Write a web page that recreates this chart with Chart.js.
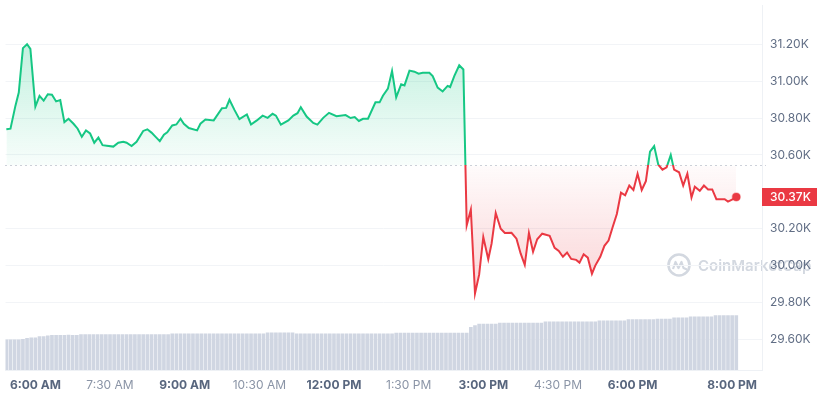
<!DOCTYPE html>
<html>
<head>
<meta charset="utf-8">
<script src="https://cdn.jsdelivr.net/npm/chart.js@4.4.0/dist/chart.umd.min.js"></script>
<style>
  html, body { margin: 0; padding: 0; background: #ffffff; }
  #wrap { width: 817px; height: 396px; position: relative; }
</style>
</head>
<body>
<div id="wrap"><canvas id="c" width="817" height="396"></canvas></div>
<script>
// ---- data (times are minutes after midnight) ----
const priceTimes = [325,330,336,340,345,350,354,360,365,370,
  375,380,385,390,395,400,406,411,416,421,
  426,431,436,441,446,454,460,466,470,476,
  482,490,495,500,505,510,515,519,525,530,
  535,539,545,555,559,565,575,585,590,594,
  600,606,615,620,627,634,640,646,650,656,
  665,671,676,680,687,695,700,707,714,723,
  734,740,745,750,755,761,770,775,779,785,
  790,795,801,805,811,817,822,827,835,839,
  845,851,857,860,865,871,876,880,885,890,
  895,900,906,910,915,921,926,934,940,945,
  950,955,960,965,971,980,986,991,996,1001,
  1006,1012,1016,1021,1026,1031,1035,1041,1046,1051,
  1056,1061,1066,1071,1076,1081,1086,1091,1096,1101,
  1106,1111,1116,1121,1126,1130,1136,1141,1146,1151,
  1155,1161,1166,1171,1176,1181,1186,1191,1195,1201,
  1205];

// BTC price in thousands of USD
const prices = [30.739,30.742,30.867,30.938,31.179,31.200,31.175,30.862,30.920,30.894,
  30.929,30.926,30.890,30.897,30.778,30.796,30.769,30.742,30.698,30.733,
  30.716,30.666,30.694,30.653,30.650,30.645,30.666,30.671,30.666,30.648,
  30.671,30.730,30.739,30.721,30.698,30.675,30.710,30.723,30.760,30.765,
  30.796,30.769,30.746,30.733,30.769,30.792,30.787,30.853,30.855,30.899,
  30.844,30.794,30.819,30.765,30.787,30.813,30.801,30.823,30.813,30.764,
  30.787,30.813,30.826,30.858,30.808,30.773,30.764,30.801,30.828,30.810,
  30.816,30.800,30.805,30.784,30.796,30.796,30.885,30.885,30.921,30.959,
  31.055,30.912,30.983,30.977,31.057,31.051,31.040,31.045,31.045,31.027,
  30.965,30.944,30.974,30.968,31.027,31.086,31.063,30.218,30.303,29.849,
  29.951,30.155,30.034,30.119,30.285,30.200,30.177,30.178,30.146,30.066,
  30.004,30.177,30.075,30.143,30.173,30.161,30.096,30.079,30.048,30.071,
  30.036,30.031,30.016,30.061,30.043,29.956,30.000,30.048,30.107,30.136,
  30.209,30.280,30.395,30.381,30.434,30.410,30.498,30.410,30.458,30.618,
  30.648,30.547,30.520,30.533,30.600,30.520,30.506,30.434,30.498,30.369,
  30.427,30.405,30.434,30.413,30.413,30.360,30.360,30.360,30.347,30.360,
  30.372];

// reference (opening) price for the dotted baseline, in thousands
const openPrice = 30.543;

// 24h volume (billions USD), one bar per 5-minute candle starting 5:25 AM
const volumeStart = 325;
const volumeStep = 5;
const volume = [8.3,8.3,8.3,8.3,8.4,8.7,8.8,8.8,9.2,9.2,
  9.4,9.5,9.5,9.5,9.5,9.6,9.5,9.5,9.7,9.7,
  9.7,9.7,9.7,9.7,9.7,9.7,9.7,9.7,9.7,9.7,
  9.7,9.7,9.7,9.7,9.7,9.7,9.7,9.7,9.7,9.7,
  9.9,9.9,9.9,9.9,9.9,9.9,9.9,9.9,9.9,9.9,
  9.9,9.9,9.9,9.9,9.9,9.9,9.9,9.9,9.9,9.9,
  9.9,9.9,9.9,10.2,10.2,10.2,10.2,10.2,10.2,10.2,
  9.9,9.9,9.9,9.9,9.9,9.9,9.9,9.9,9.9,9.9,
  9.9,9.9,9.9,9.9,9.9,9.9,9.9,9.9,9.9,9.9,
  9.9,9.9,9.9,9.9,10.1,10.1,10.1,10.1,10.1,10.1,
  10.1,10.1,10.1,10.1,10.1,10.1,10.1,10.1,10.1,10.1,
  10.1,10.1,11.7,12.2,12.6,12.6,12.6,12.6,12.6,12.9,
  12.9,12.9,12.9,12.9,12.9,12.9,12.9,12.9,12.9,12.9,
  13.2,13.2,13.2,13.2,13.2,13.2,13.2,13.2,13.2,13.2,
  13.2,13.2,13.2,13.5,13.5,13.5,13.5,13.5,13.5,13.5,
  13.8,13.8,13.8,13.8,13.8,13.8,13.8,14.0,14.0,14.0,
  14.0,14.3,14.3,14.3,14.3,14.6,14.6,14.6,14.6,14.6,
  14.6,14.9,14.9,14.9,14.9,14.9,14.9];

// axis ticks
const timeTicks = [360,450,540,630,720,810,900,990,1080,1200];
const timeLabels = ['6:00 AM','7:30 AM','9:00 AM','10:30 AM','12:00 PM','1:30 PM','3:00 PM','4:30 PM','6:00 PM','8:00 PM'];
const priceTicks = [29.6,29.8,30.0,30.2,30.4,30.6,30.8,31.0,31.2].filter(v => Math.abs(v - 30.4) > 1e-9);

// ---- styling ----
const GREEN = '#16c784';
const RED = '#ea3943';
const FONT = 'Inter, "Noto Sans", sans-serif';

const priceData = priceTimes.map((t, i) => ({ x: t, y: prices[i] }));
const volumeData = volume.map((v, i) => ({ x: volumeStart + i * volumeStep, y: v }));
const lastIdx = prices.length - 1;

const watermark = {
  id: 'watermark',
  beforeDraw(chart) {
    const { ctx, chartArea: a } = chart;
    ctx.save();
    const cx = a.right - 83, cy = a.bottom - 105;
    ctx.strokeStyle = '#d3d8e0';
    ctx.lineWidth = 2.6;
    ctx.beginPath();
    ctx.arc(cx, cy, 10.5, 0, Math.PI * 2);
    ctx.stroke();
    ctx.lineWidth = 2.2;
    ctx.lineJoin = 'round';
    ctx.beginPath();
    ctx.moveTo(cx - 6, cy + 4);
    ctx.lineTo(cx - 3.5, cy - 3);
    ctx.lineTo(cx - 0.5, cy + 3);
    ctx.lineTo(cx + 2.5, cy - 3);
    ctx.lineTo(cx + 4.5, cy + 3);
    ctx.lineTo(cx + 8, cy + 4.5);
    ctx.stroke();
    ctx.fillStyle = '#d3d8e0';
    ctx.font = '600 15px ' + FONT;
    ctx.textBaseline = 'middle';
    ctx.textAlign = 'left';
    ctx.fillText('CoinMarketCap', cx + 19, cy + 1);
    ctx.restore();
  }
};

const baseline = {
  id: 'baseline',
  beforeDatasetsDraw(chart) {
    const { ctx, chartArea: a, scales: { y } } = chart;
    const by = Math.round(y.getPixelForValue(openPrice)) + 0.5;
    ctx.save();
    ctx.strokeStyle = '#9aa3b5';
    ctx.lineWidth = 1;
    ctx.setLineDash([1, 4]);
    ctx.beginPath();
    ctx.moveTo(a.left, by);
    ctx.lineTo(a.right + 4, by);
    ctx.stroke();
    ctx.restore();
  }
};

const priceTag = {
  id: 'priceTag',
  afterDraw(chart) {
    const { ctx, chartArea: a, scales: { y } } = chart;
    const last = prices[lastIdx];
    const py = y.getPixelForValue(last);
    ctx.save();
    ctx.fillStyle = RED;
    ctx.fillRect(a.right, Math.round(py - 9), chart.width - a.right, 18);
    ctx.fillStyle = '#ffffff';
    ctx.font = '500 12px ' + FONT;
    ctx.textBaseline = 'middle';
    ctx.textAlign = 'left';
    ctx.fillText(last.toFixed(2) + 'K', a.right + 8, py + 0.5);
    ctx.restore();
  }
};

const chart = new Chart(document.getElementById('c'), {
  type: 'line',
  data: {
    datasets: [
      {
        type: 'line',
        order: 0,
        data: priceData,
        yAxisID: 'y',
        borderColor: GREEN,
        borderWidth: 2,
        tension: 0,
        pointRadius: c => (c.dataIndex === lastIdx ? 4 : 0),
        pointHoverRadius: 0,
        pointBackgroundColor: RED,
        pointBorderColor: 'rgba(234,57,67,0.35)',
        pointBorderWidth: 1.5,
        fill: { value: openPrice }
      },
      {
        type: 'bar',
        order: 1,
        data: volumeData,
        yAxisID: 'yv',
        backgroundColor: '#d0d6e2',
        barThickness: 3,
        borderWidth: 0
      }
    ]
  },
  options: {
    responsive: false,
    animation: false,
    devicePixelRatio: 1,
    layout: { padding: 0 },
    plugins: { legend: { display: false }, tooltip: { enabled: false } },
    scales: {
      x: {
        type: 'linear',
        min: 324,
        max: 1236,
        offset: false,
        grid: { display: false, offset: false, drawTicks: false },
        border: { display: true, color: '#eef1f5' },
        afterBuildTicks: s => { s.ticks = timeTicks.map(v => ({ value: v })); },
        afterFit: s => { s.height = 26; },
        ticks: {
          autoSkip: false,
          maxRotation: 0,
          padding: 8,
          callback: (v, i) => timeLabels[i],
          font: c => ({
            family: FONT,
            size: 12,
            weight: (c.tick && (c.tick.value % 180 === 0 || c.index === timeTicks.length - 1)) ? '700' : '400'
          }),
          color: c => (c.tick && (c.tick.value % 180 === 0 || c.index === timeTicks.length - 1)) ? '#58667e' : '#8a94a6'
        }
      },
      y: {
        type: 'linear',
        position: 'right',
        min: 29.434,
        max: 31.41,
        grid: { color: '#f2f4f7', drawTicks: false },
        border: { display: true, color: '#eef1f5' },
        afterBuildTicks: s => { s.ticks = priceTicks.map(v => ({ value: v })); },
        afterFit: s => { s.width = 55; s.paddingTop = 0; s.paddingBottom = 0; },
        ticks: {
          padding: 8,
          callback: v => v.toFixed(2) + 'K',
          font: { family: FONT, size: 12 },
          color: '#616e85'
        }
      },
      yv: { display: false, min: 0, max: 100 }
    }
  },
  plugins: [watermark, baseline, priceTag]
});

// gradients that depend on the laid-out scales
(function applyGradients() {
  const { ctx, chartArea: a, scales: { y } } = chart;
  const by = y.getPixelForValue(openPrice);
  const frac = Math.min(1, Math.max(0, (by - a.top) / (a.bottom - a.top)));
  const stroke = ctx.createLinearGradient(0, a.top, 0, a.bottom);
  stroke.addColorStop(0, GREEN);
  stroke.addColorStop(frac, GREEN);
  stroke.addColorStop(frac, RED);
  stroke.addColorStop(1, RED);
  const topY = y.getPixelForValue(Math.max(...prices));
  const lowY = y.getPixelForValue(Math.min(...prices));
  const up = ctx.createLinearGradient(0, topY, 0, by);
  up.addColorStop(0, 'rgba(22,199,132,0.26)');
  up.addColorStop(1, 'rgba(22,199,132,0.03)');
  const down = ctx.createLinearGradient(0, by, 0, lowY);
  down.addColorStop(0, 'rgba(234,57,67,0.02)');
  down.addColorStop(1, 'rgba(234,57,67,0.22)');
  const ds = chart.data.datasets[0];
  ds.borderColor = stroke;
  ds.fill = { value: openPrice, above: up, below: down };
  chart.update('none');
})();
</script>
</body>
</html>
